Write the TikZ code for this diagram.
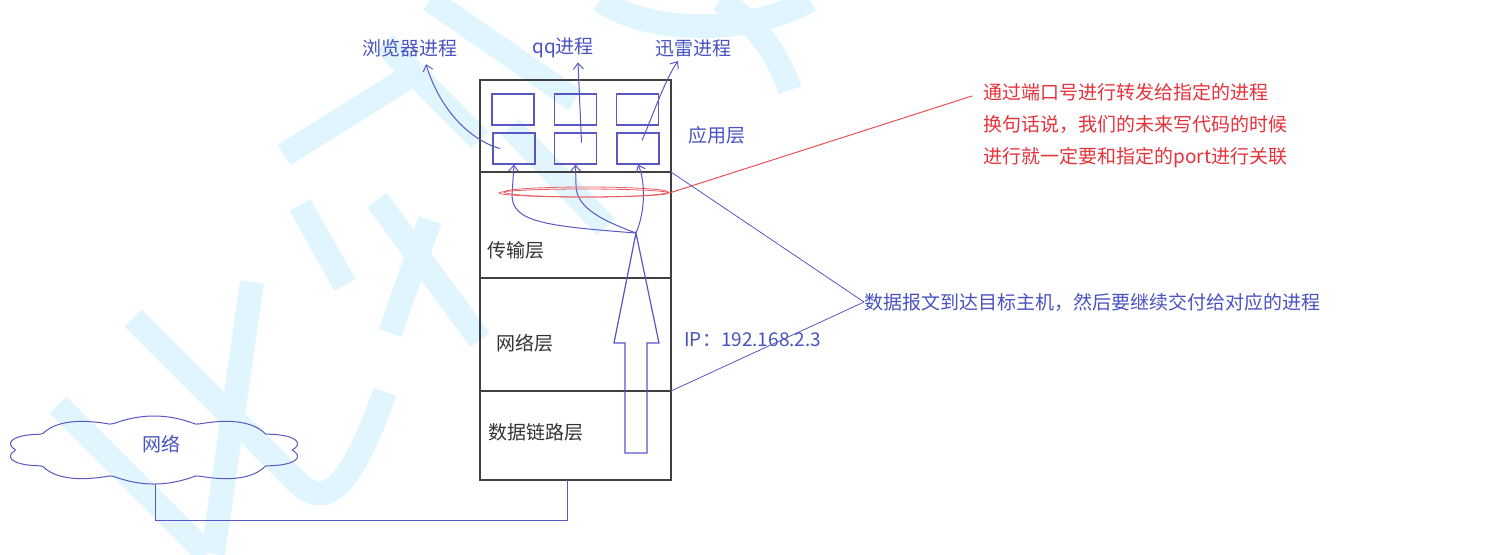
\documentclass[tikz,border=0pt]{standalone}
\usepackage{fontspec}
\setmainfont{Noto Sans CJK SC}
\usetikzlibrary{arrows.meta,shapes.geometric,calc}
\definecolor{procblue}{RGB}{88,88,196}
\definecolor{labelblue}{RGB}{72,82,192}
\definecolor{noteRed}{RGB}{230,50,58}
\definecolor{frameGray}{RGB}{64,64,64}
\definecolor{markCyan}{RGB}{224,245,253}
\begin{document}
\begin{tikzpicture}[x=0.5pt,y=-0.5pt,
  font=\fontsize{9.5}{16}\selectfont,
  layer/.style={draw=frameGray,line width=0.6pt,minimum width=95.5pt,inner sep=0pt,outer sep=0pt},
  procbox/.style={draw=procblue,line width=0.6pt,minimum width=21pt,minimum height=15.5pt,inner sep=0pt},
  flow/.style={procblue,line width=0.5pt,-{Straight Barb[length=3pt,width=5pt]}},
  tag/.style={text=labelblue,inner sep=0pt},
  layertext/.style={text=black!80,inner sep=0pt,anchor=west}]
\useasboundingbox (0,0) rectangle (1494,554);
% watermark
\begin{scope}[markCyan,line width=12pt]
\draw (58,405) -- (207,554);
\draw (133,318) -- (295,480) .. controls (320,505) and (345,505) .. (385,392);
\draw (252,282) -- (213,554);
\draw (300,205) -- (345,285);
\draw (377,200) -- (480,340);
\draw (430,220) -- (390,333);
\draw (284,155) -- (420,70);
\draw (384,43) -- (480,140);
\draw (430,0) -- (575,100);
\draw (510,127) -- (606,227);
\draw (720,0) .. controls (760,25) and (780,60) .. (790,90);
\draw (600,0) .. controls (650,35) and (750,35) .. (810,0);
\end{scope}
% protocol stack
\node[layer,minimum height=46pt] (app) at (575.5,126) {};
\node[layer,minimum height=53pt] (trans) at (575.5,225) {};
\node[layer,minimum height=56.5pt] (net) at (575.5,334.5) {};
\node[layer,minimum height=44.5pt] (link) at (575.5,435.5) {};
\node[layertext] at (487,250) {传输层};
\node[layertext] at (496,343) {网络层};
\node[layertext] at (488,432) {数据链路层};
\node[tag,anchor=west] at (688,135) {应用层};
% processes
\node[procbox] (tl) at (513,109.5) {};
\node[procbox] (tm) at (575.5,109.5) {};
\node[procbox] (tr) at (637.5,109.5) {};
\node[procbox] (bl) at (514,148.5) {};
\node[procbox] (bm) at (575.5,148.5) {};
\node[procbox] (br) at (638,148.5) {};
\node[tag] (browser) at (410,48) {浏览器进程};
\node[tag] (qq) at (563,48) {qq进程};
\node[tag] (xunlei) at (693,48) {迅雷进程};
\draw[flow] ([xshift=-7pt]bl.center) .. controls (470,140) and (440,110) .. ([xshift=8pt,yshift=-3.5pt]browser.south);
\draw[flow] ([xshift=3pt,yshift=3pt]bm.center) -- ([xshift=7.5pt,yshift=-2pt]qq.south);
\draw[flow] ([xshift=2pt,yshift=4pt]br.center) .. controls (655,110) and (665,80) .. ([xshift=-7.5pt,yshift=-2pt]xunlei.south);
% demultiplexing
\coordinate (hub) at (636,233);
\draw[procblue,line width=0.6pt] (625,453) -- (625,343) -- (614,343) -- (hub) -- (659,343) -- (647,343) -- (647,453) -- cycle;
\draw[flow] (hub) .. controls (545,226) and (512,222) .. (512,195) -- (bl.south);
\draw[flow] (hub) .. controls (595,218) and (576,205) .. (576,185) -- (bm.south);
\draw[flow] (hub) .. controls (646,210) and (645,180) .. (br.south);
\node[ellipse,draw=noteRed!80,line width=0.4pt,minimum width=85pt,minimum height=4pt,inner sep=0pt] (port) at (584,193) {};
\draw[noteRed!80,line width=0.4pt] (586,192) ellipse (82 and 5);
\node[text=noteRed,inner sep=0pt,anchor=west,align=left] (note) at (983,126)
  {通过端口号进行转发给指定的进程\\换句话说，我们的未来写代码的时候\\进行就一定要和指定的port进行关联};
\draw[noteRed!85,line width=0.5pt] (port.east) -- ($(note.west)+(-11,-30)$);
\node[tag,anchor=west] (recv) at (864,302) {数据报文到达目标主机，然后要继续交付给对应的进程};
\draw[procblue,line width=0.4pt] (trans.north east) -- (recv.west);
\draw[procblue,line width=0.4pt] (link.north east) -- (recv.west);
\node[tag,anchor=west] (ip) at (684,340) {IP：192.168.2.3};
% network
\draw[procblue,line width=0.5pt] plot[smooth,domain=0:360,samples=180]
  ({154+(138+10*abs(sin(5*\x)))*cos(\x)},{450+(27+7*abs(sin(5*\x)))*sin(\x)});
\node[tag] (wan) at (161,444) {网络};
\coordinate (wanfoot) at (155,484);
\coordinate (bend) at (155,520);
\draw[procblue,line width=0.5pt] (wanfoot) -- (bend) -| ([xshift=-4pt]link.south);
\end{tikzpicture}
\end{document}
